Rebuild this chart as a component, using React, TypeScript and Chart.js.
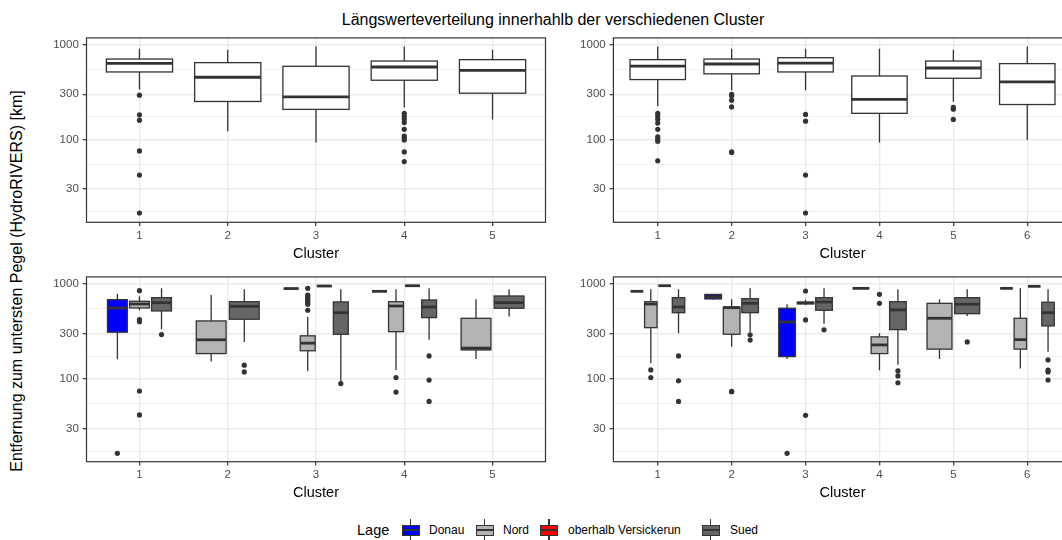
import React, { useEffect, useRef } from "react";
import { Chart, registerables } from "chart.js";

Chart.register(...registerables);

const FONT = '"Liberation Sans", Arial, Helvetica, sans-serif';

// ---------- categories & ticks ----------
const clusters5 = ["1", "2", "3", "4", "5"];
const clusters6 = ["1", "2", "3", "4", "5", "6"];
const yMajorTicks = [30, 100, 300, 1000];
const yMinorTicks = [17.32, 54.77, 173.2, 547.7];
const yMin = 13.4;
const yMax = 1180;

const groupNames = ["Donau", "Nord", "oberhalb Versickerun", "Sued"];
const groupFills = ["#0000FF", "#B3B3B3", "#FF0000", "#666666"];

// ---------- data: [lower whisker, Q1, median, Q3, upper whisker] ----------
// top-left (all stations, 5 clusters)
const tlStats = [
  [337, 516, 637, 706, 908],
  [122, 252, 454, 647, 886],
  [93, 208, 282, 592, 960],
  [218, 422, 582, 673, 960],
  [163, 308, 537, 696, 886],
];
const tlOutliers = [
  [294, 182, 160, 75.9, 42.2, 16.8],
  [],
  [],
  [189, 177, 165, 151, 128, 109, 105, 99, 74, 58.6],
  [],
];

// top-right (all stations, 6 clusters)
const trStats = [
  [225, 429, 596, 696, 960],
  [331, 493, 626, 706, 908],
  [331, 516, 641, 730, 908],
  [93, 189, 265, 468, 908],
  [250, 443, 568, 673, 886],
  [99, 234, 405, 632, 960],
];
const trOutliers = [
  [189, 177, 164, 149, 128, 107, 101, 95.7, 59.6],
  [299, 290, 260, 221, 74.3, 73],
  [184, 156, 42.2, 16.8],
  [],
  [218, 209, 163],
  [],
];

// bottom-left (by Lage, 5 clusters)
const blDonau = [[160, 309, 556, 680, 785], null, [890, 890, 890, 890, 890], [832, 832, 832, 832, 832], null];
const blNord = [
  [525, 556, 612, 654, 740],
  [152, 184, 257, 406, 761],
  [121, 197, 237, 283, 447],
  [124, 313, 583, 647, 873],
  [161, 201, 210, 433, 686],
];
const blOberhalb = [null, null, [946, 946, 946, 946, 946], [953, 953, 953, 953, 953], null];
const blSued = [
  [332, 517, 632, 713, 894],
  [244, 423, 579, 647, 873],
  [93, 294, 496, 643, 873],
  [257, 440, 569, 674, 894],
  [451, 552, 632, 743, 873],
];
const blDonauOut = [[16.4], [], [], [], []];
const blNordOut = [[845, 419, 399, 74.3, 41.6], [], [894, 760, 730, 700, 670, 640, 610, 526], [103, 72.5], []];
const blOberhalbOut = [[], [], [], [], []];
const blSuedOut = [[292], [139, 118], [89], [174, 96.8, 57.8], []];

// bottom-right (by Lage, 6 clusters)
const brDonau = [
  [832, 832, 832, 832, 832],
  [680, 692, 730, 772, 775],
  [161, 171, 396, 552, 608],
  [894, 894, 894, 894, 894],
  null,
  [894, 894, 894, 894, 894],
];
const brNord = [
  [146, 345, 612, 647, 873],
  [217, 294, 560, 569, 686],
  [600, 615, 627, 640, 680],
  [123, 184, 227, 276, 302],
  [161, 205, 433, 622, 686],
  [128, 205, 258, 433, 894],
];
const brOberhalb = [[953, 953, 953, 953, 953], null, null, null, null, [939, 939, 939, 939, 939]];
const brSued = [
  [302, 496, 569, 713, 873],
  [310, 496, 622, 696, 894],
  [380, 526, 643, 713, 894],
  [140, 329, 530, 647, 873],
  [458, 484, 608, 713, 873],
  [192, 360, 496, 638, 873],
];
const brDonauOut = [[], [], [16.4], [], [], []];
const brNordOut = [[124, 103], [73.6, 73], [838, 416, 41.2], [774, 622], [], []];
const brOberhalbOut = [[], [], [], [], [], []];
const brSuedOut = [[174, 95.3, 57.8], [290, 255], [327], [121, 107, 90.8], [244], [158, 123, 118, 96.8]];

type Group = { fill: string; stats: (number[] | null)[]; out: number[][] };
type Rect = { l: number; t: number; r: number; b: number };

function Panel({ rect, clusters, groups }: { rect: Rect; clusters: string[]; groups: Group[] }) {
  const ref = useRef<HTMLCanvasElement>(null);
  const cl = Math.floor(rect.l) - 52;
  const ct = Math.floor(rect.t) - 10;
  const W = Math.ceil(rect.r) + 6 - cl;
  const H = Math.ceil(rect.b) + 40 - ct;

  useEffect(() => {
    const canvas = ref.current;
    if (!canvas) return;
    const n = clusters.length;
    const presentLists = clusters.map((_, ci) =>
      groups.map((g, gi) => (g.stats[ci] ? gi : -1)).filter((gi) => gi >= 0)
    );
    const anyMulti = presentLists.some((p) => p.length > 1);
    const slots = presentLists.map((present, ci) => {
      const k = present.length;
      const slot = 0.75 / k;
      const pad = anyMulti ? 0.9 : 1;
      return present.map((gi, j) => ({ gi, cx: ci + 1 - 0.375 + slot * (j + 0.5), hw: (slot * pad) / 2 }));
    });

    const datasets = groups.map((g, gi) => {
      const pts: { x: number; y: number }[] = [];
      slots.forEach((list, ci) =>
        list.forEach((s) => {
          if (s.gi === gi) g.out[ci].forEach((v) => pts.push({ x: s.cx, y: v }));
        })
      );
      return {
        label: "g" + gi,
        data: pts,
        pointRadius: 2.6,
        pointHoverRadius: 2.6,
        pointBackgroundColor: "#333333",
        pointBorderWidth: 0,
        showLine: false,
      };
    });

    const boxPlugin = {
      id: "boxplots",
      beforeDatasetsDraw(chart: any) {
        const { ctx } = chart;
        const xs = chart.scales.x;
        const ys = chart.scales.y;
        ctx.save();
        slots.forEach((list, ci) =>
          list.forEach((s) => {
            const st = groups[s.gi].stats[ci] as number[];
            const [lo, q1, med, q3, hi] = st;
            const xc = xs.getPixelForValue(s.cx);
            const xl = xs.getPixelForValue(s.cx - s.hw);
            const xr = xs.getPixelForValue(s.cx + s.hw);
            const yLo = ys.getPixelForValue(lo);
            const yQ1 = ys.getPixelForValue(q1);
            const yMed = ys.getPixelForValue(med);
            const yQ3 = ys.getPixelForValue(q3);
            const yHi = ys.getPixelForValue(hi);
            ctx.strokeStyle = "#333333";
            ctx.lineWidth = 1.3;
            ctx.lineCap = "butt";
            ctx.beginPath();
            ctx.moveTo(xc, yHi);
            ctx.lineTo(xc, yQ3);
            ctx.moveTo(xc, yQ1);
            ctx.lineTo(xc, yLo);
            ctx.stroke();
            ctx.fillStyle = groups[s.gi].fill;
            ctx.fillRect(xl, yQ3, xr - xl, yQ1 - yQ3);
            ctx.strokeRect(xl, yQ3, xr - xl, yQ1 - yQ3);
            ctx.lineWidth = 2.8;
            ctx.beginPath();
            ctx.moveTo(xl, yMed);
            ctx.lineTo(xr, yMed);
            ctx.stroke();
          })
        );
        ctx.restore();
      },
      afterDraw(chart: any) {
        const { ctx, chartArea: a } = chart;
        ctx.save();
        ctx.strokeStyle = "#333333";
        ctx.lineWidth = 1.2;
        ctx.strokeRect(a.left, a.top, a.right - a.left, a.bottom - a.top);
        ctx.restore();
      },
    };

    const yAll = [...yMinorTicks, ...yMajorTicks].sort((a, b) => a - b);
    const isMajor = (v: number) => yMajorTicks.indexOf(v) >= 0;
    const yAxisW = rect.l - cl;
    const padTop = rect.t - ct;
    const padRight = cl + W - rect.r;
    const xAxisH = ct + H - rect.b;

    const chart = new Chart(canvas, {
      type: "scatter",
      data: { datasets: datasets as any },
      options: {
        animation: false,
        responsive: false,
        maintainAspectRatio: false,
        events: [],
        layout: { padding: { top: padTop, right: padRight, left: 0, bottom: 0 } },
        plugins: { legend: { display: false }, tooltip: { enabled: false } },
        scales: {
          x: {
            type: "linear",
            min: 0.4,
            max: n + 0.6,
            afterBuildTicks: (s: any) => {
              s.ticks = clusters.map((_, i) => ({ value: i + 1 }));
            },
            afterFit: (s: any) => {
              s.height = xAxisH;
            },
            ticks: {
              callback: (v: any) => clusters[Math.round(Number(v)) - 1] ?? "",
              color: "#4D4D4D",
              font: { family: FONT, size: 11.5 },
              padding: 3,
              maxRotation: 0,
              autoSkip: false,
            },
            grid: { color: "#EBEBEB", lineWidth: 1.4, tickColor: "#333333", tickLength: 3.7, tickWidth: 1.2 },
            border: { display: false },
          },
          y: {
            type: "logarithmic",
            min: yMin,
            max: yMax,
            afterBuildTicks: (s: any) => {
              s.ticks = yAll.map((v) => ({ value: v }));
            },
            afterFit: (s: any) => {
              s.width = yAxisW;
            },
            ticks: {
              callback: (v: any) => (isMajor(Number(v)) ? String(v) : ""),
              color: "#4D4D4D",
              font: { family: FONT, size: 11.5 },
              padding: 4,
              autoSkip: false,
            },
            grid: {
              color: "#EBEBEB",
              lineWidth: (c: any) => (c.tick && isMajor(c.tick.value) ? 1.4 : 0.7),
              tickColor: (c: any) => (c.tick && isMajor(c.tick.value) ? "#333333" : "rgba(0,0,0,0)"),
              tickLength: 3.7,
              tickWidth: 1.2,
            },
            border: { display: false },
          },
        },
      } as any,
      plugins: [boxPlugin],
    });
    return () => chart.destroy();
  }, []);

  return (
    <canvas
      ref={ref}
      width={W}
      height={H}
      style={{ position: "absolute", left: cl, top: ct, width: W, height: H }}
    />
  );
}

const text = (s: string, x: number, y: number, size: number, extra: any = {}) => (
  <div
    style={{
      position: "absolute",
      left: x,
      top: y,
      transform: "translate(-50%, -50%)",
      fontSize: size,
      lineHeight: 1,
      whiteSpace: "nowrap",
      color: "#000",
      ...extra,
    }}
  >
    {s}
  </div>
);

function LegendKey({ x, fill }: { x: number; fill: string }) {
  return (
    <div style={{ position: "absolute", left: x, top: 517, width: 18, height: 26 }}>
      <div style={{ position: "absolute", left: 8.4, top: 2, width: 1.2, height: 24, background: "#333" }} />
      <div
        style={{
          position: "absolute",
          left: 0,
          top: 7.5,
          width: 18,
          height: 11,
          boxSizing: "border-box",
          border: "1.2px solid #333",
          background: fill,
        }}
      />
      <div style={{ position: "absolute", left: 0, top: 12, width: 18, height: 2, background: "#333" }} />
    </div>
  );
}

export default function App() {
  const rTL = { l: 86.5, t: 37.3, r: 545.5, b: 222.3 };
  const rTR = { l: 613.4, t: 37.3, r: 1071.6, b: 222.3 };
  const rBL = { l: 86.5, t: 276, r: 545.5, b: 461.7 };
  const rBR = { l: 613.4, t: 276, r: 1071.6, b: 461.7 };

  const topLeftGroups: Group[] = [{ fill: "#FFFFFF", stats: tlStats, out: tlOutliers }];
  const topRightGroups: Group[] = [{ fill: "#FFFFFF", stats: trStats, out: trOutliers }];
  const bottomLeftGroups: Group[] = [
    { fill: groupFills[0], stats: blDonau, out: blDonauOut },
    { fill: groupFills[1], stats: blNord, out: blNordOut },
    { fill: groupFills[2], stats: blOberhalb, out: blOberhalbOut },
    { fill: groupFills[3], stats: blSued, out: blSuedOut },
  ];
  const bottomRightGroups: Group[] = [
    { fill: groupFills[0], stats: brDonau, out: brDonauOut },
    { fill: groupFills[1], stats: brNord, out: brNordOut },
    { fill: groupFills[2], stats: brOberhalb, out: brOberhalbOut },
    { fill: groupFills[3], stats: brSued, out: brSuedOut },
  ];

  const legendKeyX = [401.7, 475.7, 540, 701.7];
  const legendTextX = [429, 503, 568, 730];

  return (
    <div
      style={{
        position: "fixed",
        left: 0,
        top: 0,
        width: 1062,
        height: 540,
        overflow: "hidden",
        background: "#FFFFFF",
        fontFamily: FONT,
      }}
    >
      {text("Längswerteverteilung innerhahlb der verschiedenen Cluster", 553, 20, 16)}
      {text("Entfernung zum untersten Pegel (HydroRIVERS) [km]", 17, 281, 16, {
        transform: "translate(-50%, -50%) rotate(-90deg)",
      })}
      <Panel rect={rTL} clusters={clusters5} groups={topLeftGroups} />
      <Panel rect={rTR} clusters={clusters6} groups={topRightGroups} />
      <Panel rect={rBL} clusters={clusters5} groups={bottomLeftGroups} />
      <Panel rect={rBR} clusters={clusters6} groups={bottomRightGroups} />
      {text("Cluster", (rTL.l + rTL.r) / 2, 253, 14.5)}
      {text("Cluster", (rTR.l + rTR.r) / 2, 253, 14.5)}
      {text("Cluster", (rBL.l + rBL.r) / 2, 492, 14.5)}
      {text("Cluster", (rBR.l + rBR.r) / 2, 492, 14.5)}
      <div style={{ position: "absolute", left: 357, top: 530, transform: "translateY(-50%)", fontSize: 14.5, lineHeight: 1 }}>
        Lage
      </div>
      {groupNames.map((g, i) => (
        <React.Fragment key={g}>
          <LegendKey x={legendKeyX[i]} fill={groupFills[i]} />
          <div
            style={{
              position: "absolute",
              left: legendTextX[i],
              top: 530,
              transform: "translateY(-50%)",
              fontSize: 12,
              lineHeight: 1,
              whiteSpace: "nowrap",
            }}
          >
            {g}
          </div>
        </React.Fragment>
      ))}
    </div>
  );
}
